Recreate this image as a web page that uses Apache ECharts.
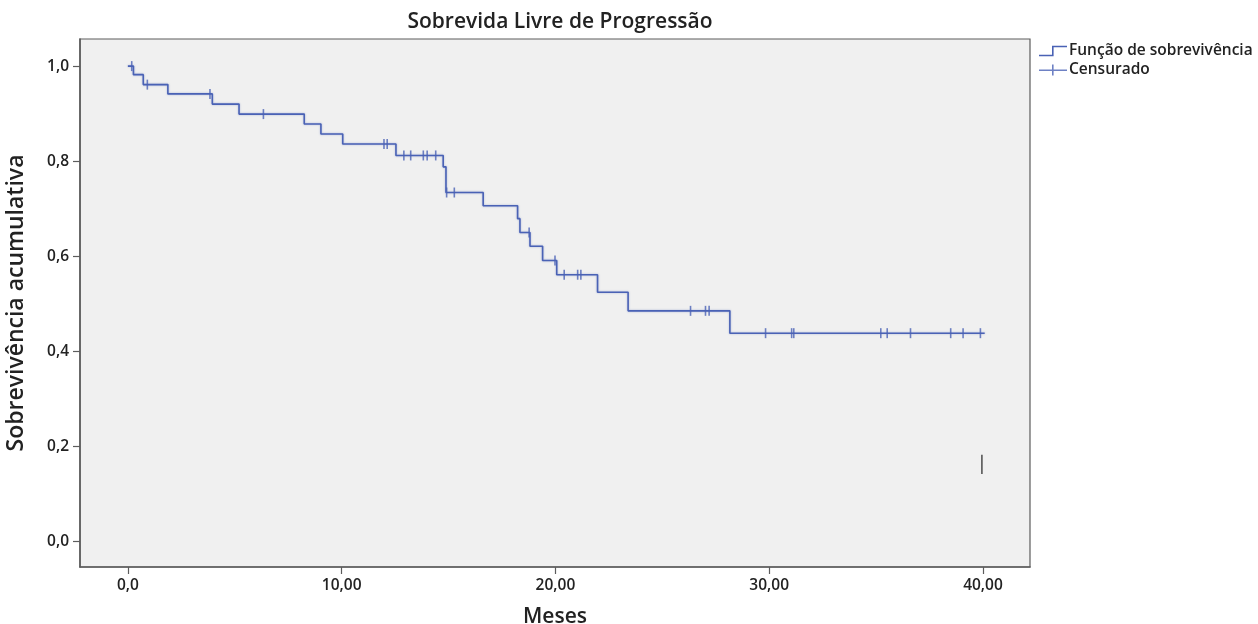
<!DOCTYPE html>
<html>
<head>
<meta charset="utf-8">
<script src="https://cdn.jsdelivr.net/npm/echarts@6/dist/echarts.min.js"></script>
<style>html,body{margin:0;padding:0;background:#fff;}#c{width:1258px;height:624px;}</style>
</head>
<body>
<div id="c"></div>
<script>
// Kaplan-Meier survival steps: [time (months), survival after event]
const survivalSteps = [
  [0, 1.0], [0.26, 0.982], [0.72, 0.961], [1.87, 0.9415], [3.95, 0.920], [5.20, 0.899],
  [8.25, 0.878], [9.03, 0.857], [10.05, 0.836], [12.54, 0.812], [14.75, 0.788], [14.88, 0.734],
  [16.62, 0.706], [18.23, 0.679], [18.34, 0.650], [18.81, 0.621], [19.40, 0.591], [20.06, 0.561],
  [21.97, 0.524], [23.40, 0.485], [28.16, 0.438], [40.08, 0.438]
];
// Censored observations: [time, survival]
const censored = [
  [0.18, 1.0], [0.91, 0.961], [3.84, 0.9415], [6.34, 0.899], [11.98, 0.836], [12.13, 0.836],
  [12.91, 0.812], [13.23, 0.812], [13.82, 0.812], [14.0, 0.812], [14.4, 0.812],
  [14.91, 0.734], [15.27, 0.734], [18.77, 0.650], [19.98, 0.591],
  [20.41, 0.561], [21.04, 0.561], [21.19, 0.561],
  [26.32, 0.485], [27.02, 0.485], [27.19, 0.485],
  [29.83, 0.438], [31.05, 0.438], [31.15, 0.438], [35.22, 0.438], [35.52, 0.438],
  [36.61, 0.438], [38.49, 0.438], [39.07, 0.438], [39.88, 0.438]
];
// Stray vertical mark in the plot
const strayMark = [[39.95, 0.1415], [39.95, 0.182]];
const xTickValues = [0, 10, 20, 30, 40];
const yTickValues = [0, 0.2, 0.4, 0.6, 0.8, 1.0];

const blue = '#4a62b5';
const font = 'Open Sans';
const chart = echarts.init(document.getElementById('c'), null, {renderer: 'canvas'});
chart.setOption({
  animation: false,
  backgroundColor: '#ffffff',
  title: {
    text: 'Sobrevida Livre de Progressão',
    left: 555, top: 7, textAlign: 'center',
    textStyle: {fontFamily: font, fontSize: 21, fontWeight: 600, color: '#222'}
  },
  legend: {
    orient: 'vertical', left: 1034, top: 38,
    itemWidth: 28, itemHeight: 11, itemGap: 3,
    textStyle: {fontFamily: font, fontSize: 15.5, fontWeight: 600, color: '#222', padding: [0, 0, 0, -3]},
    data: [
      {name: 'Função de sobrevivência', icon: 'path://M0,9 L13,9 L13,0 L28,0 L28,1.6 L14.6,1.6 L14.6,10.6 L0,10.6 Z'},
      {name: 'Censurado', icon: 'path://M0,5 L13,5 L13,0 L14.6,0 L14.6,5 L28,5 L28,6.6 L14.6,6.6 L14.6,11 L13,11 L13,6.6 L0,6.6 Z'}
    ]
  },
  grid: {
    left: 80, right: 228, top: 39, bottom: 57,
    outerBoundsMode: 'none', containLabel: false,
    show: true, backgroundColor: '#f0f0f0', borderColor: '#5c5c5c', borderWidth: 1.2
  },
  xAxis: {
    type: 'value', min: -2.24, max: 42.2,
    name: 'Meses', nameLocation: 'middle', nameGap: 40,
    nameTextStyle: {fontFamily: font, fontSize: 21, fontWeight: 600, color: '#222'},
    axisLine: {show: true, onZero: false, lineStyle: {color: '#5c5c5c', width: 1.6}},
    axisTick: {show: true, customValues: xTickValues, length: 7, lineStyle: {color: '#5c5c5c', width: 1.2}},
    axisLabel: {
      customValues: xTickValues, margin: 11,
      fontFamily: font, fontSize: 15.5, fontWeight: 600, color: '#222',
      formatter: v => v === 0 ? '0,0' : v.toFixed(2).replace('.', ',')
    },
    splitLine: {show: false}
  },
  yAxis: {
    type: 'value', min: -0.054, max: 1.057,
    name: 'Sobrevivência acumulativa', nameLocation: 'middle', nameGap: 52,
    nameTextStyle: {fontFamily: font, fontSize: 23, fontWeight: 600, color: '#222'},
    axisLine: {show: true, onZero: false, lineStyle: {color: '#5c5c5c', width: 1.6}},
    axisTick: {show: true, customValues: yTickValues, length: 7, lineStyle: {color: '#5c5c5c', width: 1.2}},
    axisLabel: {
      customValues: yTickValues, margin: 11,
      fontFamily: font, fontSize: 15.5, fontWeight: 600, color: '#222',
      formatter: v => v.toFixed(1).replace('.', ',')
    },
    splitLine: {show: false}
  },
  series: [
    {
      name: 'Função de sobrevivência', type: 'line', step: 'end',
      data: survivalSteps, showSymbol: false, symbol: 'none',
      itemStyle: {color: blue},
      lineStyle: {color: blue, width: 1.6, shadowBlur: 2, shadowColor: 'rgba(74,98,181,0.45)'},
      z: 3
    },
    {
      name: 'Censurado', type: 'scatter', data: censored,
      symbol: 'rect', symbolSize: [1.6, 10],
      itemStyle: {color: blue}, z: 4
    },
    {
      name: 'stray', type: 'line', data: strayMark, showSymbol: false, symbol: 'none',
      lineStyle: {color: '#555', width: 1.6}, z: 2
    }
  ]
});
</script>
</body>
</html>
